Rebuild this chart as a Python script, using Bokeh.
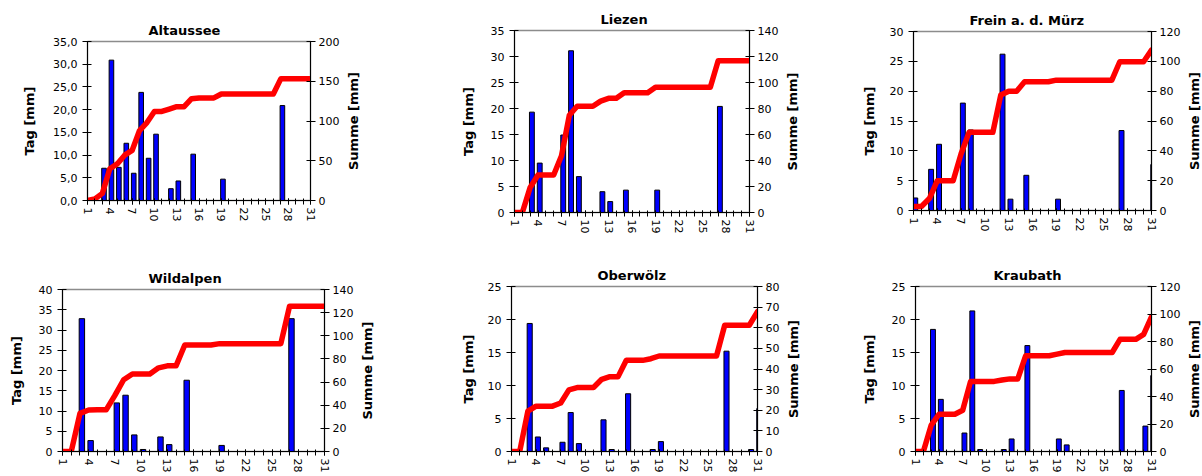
import math
from bokeh.plotting import figure
from bokeh.models import Range1d, LinearAxis, FixedTicker, ColumnDataSource
from bokeh.layouts import column, row
from bokeh.transform import dodge
from bokeh.embed import file_html
from bokeh.resources import INLINE

DAYS = list(range(1, 32))
X_LABELED = [1, 4, 7, 10, 13, 16, 19, 22, 25, 28, 31]

# ---- daily precipitation [mm] (bars) and monthly running sum [mm] (red line)
altaussee_tag = [0, 0, 7.1, 30.9, 7.3, 12.6, 6.0, 23.8, 9.3, 14.6, 0, 2.6, 4.3, 0, 10.2, 0,
                 0, 0, 4.7, 0, 0, 0, 0, 0, 0, 0, 20.9, 0, 0, 0, 0]
altaussee_sum = [0, 2, 9, 40, 46, 57, 63, 88, 98, 112, 112, 115, 118, 118, 128, 129,
                 129, 129, 134, 134, 134, 134, 134, 134, 134, 134, 153, 153, 153, 153, 153]

liezen_tag = [0, 0, 19.3, 9.5, 0, 0, 14.9, 31.1, 6.9, 0, 0, 4.0, 2.1, 0, 4.3, 0,
              0, 0, 4.3, 0, 0, 0, 0, 0, 0, 0, 20.4, 0, 0, 0, 0]
liezen_sum = [0, 0, 19.3, 28.8, 28.8, 28.8, 43.7, 74.8, 81.7, 81.7, 81.7, 85.7, 87.8, 87.8, 92.1, 92.1,
              92.1, 92.1, 96.4, 96.4, 96.4, 96.4, 96.4, 96.4, 96.4, 96.4, 116.8, 116.8, 116.8, 116.8, 116.8]

frein_tag = [2.1, 0, 6.9, 11.1, 0, 0, 18.0, 13.5, 0, 0, 0, 26.2, 1.9, 0, 5.9, 0,
             0, 0, 1.9, 0, 0, 0, 0, 0, 0, 0, 13.4, 0, 0, 0, 7.7]
frein_sum = [2.7, 2.7, 8.0, 20.0, 20.0, 20.0, 38.0, 52.4, 52.4, 52.4, 52.4, 77.4, 80.0, 80.0, 86.3, 86.3,
             86.3, 86.3, 87.4, 87.4, 87.4, 87.4, 87.4, 87.4, 87.4, 87.4, 99.7, 99.7, 99.7, 99.7, 107.5]

wildalpen_tag = [0, 0, 32.8, 2.7, 0, 0, 12.0, 13.9, 4.1, 0.5, 0, 3.6, 1.7, 0, 17.6, 0,
                 0, 0, 1.5, 0, 0, 0, 0, 0, 0, 0, 32.8, 0, 0, 0, 0]
wildalpen_sum = [0, 0, 33.0, 35.9, 36.0, 36.0, 48.5, 62.0, 67.0, 67.0, 67.0, 72.3, 74.0, 74.0, 92.0, 92.0,
                 92.0, 92.0, 93.2, 93.2, 93.2, 93.2, 93.2, 93.2, 93.2, 93.2, 125.6, 125.6, 125.6, 125.6, 125.6]

oberwoelz_tag = [0, 0, 19.4, 2.2, 0.55, 0, 1.4, 5.9, 1.2, 0, 0, 4.8, 0.3, 0, 8.75, 0,
                 0, 0.3, 1.5, 0, 0, 0, 0, 0, 0, 0, 15.2, 0, 0, 0.3, 6.5]
oberwoelz_sum = [0, 0, 19.6, 22.0, 22.0, 22.0, 23.5, 29.9, 31.0, 31.0, 31.0, 35.0, 36.3, 36.3, 44.2, 44.2,
                 44.2, 45.0, 46.3, 46.3, 46.3, 46.3, 46.3, 46.3, 46.3, 46.3, 61.2, 61.2, 61.2, 61.2, 67.8]

kraubath_tag = [0, 0, 18.5, 7.9, 0, 0, 2.8, 21.3, 0.3, 0, 0, 0.3, 1.9, 0, 16.05, 0,
                0, 0, 1.9, 1.0, 0, 0, 0, 0, 0, 0, 9.25, 0, 0, 3.85, 11.5]
kraubath_sum = [0, 0, 19.2, 27.1, 27.1, 27.1, 30.0, 51.0, 51.0, 51.0, 51.0, 52.0, 52.8, 52.8, 69.6, 69.6,
                69.6, 69.6, 70.8, 72.0, 72.0, 72.0, 72.0, 72.0, 72.0, 72.0, 81.6, 81.6, 81.6, 85.2, 97.9]

TICK_FONT = "DejaVu Sans"
LABEL_FONT = "DejaVu Sans"


def style_axis(ax, out=5, inn=4, standoff=5):
    ax.axis_line_color = "black"
    ax.axis_line_width = 1
    ax.major_tick_line_color = "black"
    ax.major_tick_out = out
    ax.major_tick_in = inn
    ax.minor_tick_line_color = None
    ax.major_label_text_font = TICK_FONT
    ax.major_label_text_font_size = "11px"
    ax.major_label_text_color = "black"
    ax.major_label_standoff = standoff
    ax.axis_label_text_font = LABEL_FONT
    ax.axis_label_text_font_size = "13px"
    ax.axis_label_text_font_style = "bold"
    ax.axis_label_text_color = "black"


def make_panel(title, tag, summe, lmax, rmax, rstep, comma, cell_w, H, main_w, borders,
               lab_l, title_left):
    bl, br, bt, bb = borders
    p = figure(width=main_w, height=H, x_range=Range1d(1, 31), y_range=Range1d(0, lmax),
               output_backend="svg", toolbar_location=None,
               min_border_left=bl, min_border_right=br,
               min_border_top=bt, min_border_bottom=bb)
    p.background_fill_color = "white"
    p.border_fill_color = "white"
    p.outline_line_color = "#8c8c8c"
    p.outline_line_width = 1.5
    p.xgrid.visible = False
    p.ygrid.visible = False

    p.title.text = title
    p.title.align = "left"
    p.title.text_font = LABEL_FONT
    p.title.text_font_size = "13px"
    p.title.text_font_style = "bold"
    p.title.text_color = "black"
    p.title.offset = title_left
    p.title.standoff = 8

    src = ColumnDataSource(dict(day=DAYS, tag=tag, summe=summe))

    xa = p.xaxis[0]
    xa.ticker = FixedTicker(ticks=X_LABELED, minor_ticks=DAYS)
    style_axis(xa, out=4, inn=2, standoff=3)
    xa.minor_tick_line_color = "black"
    xa.minor_tick_out = 4
    xa.minor_tick_in = 2
    xa.major_label_orientation = "vertical"

    ya = p.yaxis[0]
    lticks = list(range(0, lmax + 1, 5))
    ya.ticker = FixedTicker(ticks=lticks)
    if comma:
        ya.major_label_overrides = {t: f"{t},0" for t in lticks}
    style_axis(ya)
    ya.axis_label = "Tag [mm]"
    ya.axis_label_standoff = lab_l

    p.extra_y_ranges = {"sum": Range1d(0, rmax)}
    ra = LinearAxis(y_range_name="sum", ticker=FixedTicker(ticks=list(range(0, rmax + 1, rstep))))
    style_axis(ra, standoff=3)
    p.add_layout(ra, "right")

    p.vbar(x=dodge("day", 0.22, range=p.x_range), top="tag", width=0.62, source=src,
           fill_color="#0000FF", line_color="black", line_width=1)
    p.line("day", "summe", source=src, y_range_name="sum", line_color="#FF0000",
           line_width=5.5, line_join="round", line_cap="round")

    # narrow companion plot carrying the right-hand axis title, read bottom-to-top
    s = figure(width=cell_w - main_w, height=H, x_range=Range1d(0, 1), y_range=Range1d(0, 1),
               output_backend="svg", toolbar_location=None,
               min_border_left=15, min_border_right=0, min_border_top=bt, min_border_bottom=bb)
    s.outline_line_color = None
    s.background_fill_color = "white"
    s.border_fill_color = "white"
    s.xgrid.visible = False
    s.ygrid.visible = False
    s.xaxis.visible = False
    sa = s.yaxis[0]
    sa.ticker = FixedTicker(ticks=[])
    sa.axis_line_color = None
    sa.major_tick_line_color = None
    sa.minor_tick_line_color = None
    sa.major_tick_out = 0
    sa.major_tick_in = 0
    sa.major_label_text_font_size = "1px"
    sa.axis_label = "Summe [mm]"
    sa.axis_label_standoff = 0
    sa.axis_label_text_font = LABEL_FONT
    sa.axis_label_text_font_size = "13px"
    sa.axis_label_text_font_style = "bold"
    sa.axis_label_text_color = "black"
    s.scatter([0.5], [0.5], size=0, alpha=0)
    return column(row(p, s))


c1 = make_panel("Altaussee", altaussee_tag, altaussee_sum, 35, 200, 50, True,
                400, 238, 342, (87, 29, 41, 38), 13, 61)
c2 = make_panel("Liezen", liezen_tag, liezen_sum, 35, 140, 20, False,
                400, 238, 381, (114, 29, 30, 26), 12, 86)
c3 = make_panel("Frein a. d. Mürz", frein_tag, frein_sum, 30, 120, 20, False,
                401, 238, 383, (113, 29, 31, 28), 10, 56)
c4 = make_panel("Wildalpen", wildalpen_tag, wildalpen_sum, 40, 140, 20, False,
                400, 237, 356, (62, 29, 51, 24), 12, 86)
c5 = make_panel("Oberwölz", oberwoelz_tag, oberwoelz_sum, 25, 80, 10, False,
                400, 237, 382, (111, 22, 48, 21), 9, 86)
c6 = make_panel("Kraubath", kraubath_tag, kraubath_sum, 25, 120, 20, False,
                401, 237, 383, (115, 29, 48, 21), 12, 78)

layout = column(row(c1, c2, c3), row(c4, c5, c6))
open("out.html", "w").write(file_html(layout, INLINE))
